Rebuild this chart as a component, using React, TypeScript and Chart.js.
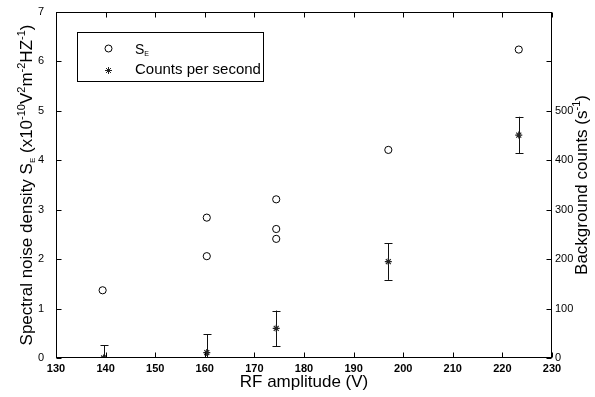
import React, { useEffect, useRef } from "react";
import { Chart, registerables } from "chart.js";

Chart.register(...registerables);

// ---- data ----
const seAmplitude = [139.4, 160.4, 160.4, 174.4, 174.4, 174.4, 197.0, 223.3];
const seDensity = [1.37, 2.06, 2.84, 2.41, 2.61, 3.21, 4.21, 6.24];
const countsAmplitude = [139.6, 160.4, 174.4, 197.0, 223.3];
const countsPerSecond = [0, 11, 60, 195, 451];
const countsError = [26, 37, 36, 37, 37];
const xTicks = [130, 140, 150, 160, 170, 180, 190, 200, 210, 220, 230];
const leftTicks = [0, 1, 2, 3, 4, 5, 6, 7];
const rightTicks = [0, 100, 200, 300, 400, 500, 600, 700];
const rightTickLabels = ["0", "100", "200", "300", "400", "500", "", ""];

const FONT = "'Liberation Sans', Arial, Helvetica, sans-serif";

type Seg = { t: string; size: number; dy: number };

function drawRich(ctx: CanvasRenderingContext2D, segs: Seg[], x: number, y: number, rot: number, align: "center" | "left") {
  ctx.save();
  ctx.translate(x, y);
  ctx.rotate(rot);
  let total = 0;
  const widths = segs.map((s) => {
    ctx.font = `${s.size}px ${FONT}`;
    const w = ctx.measureText(s.t).width;
    total += w;
    return w;
  });
  let cx = align === "center" ? -total / 2 : 0;
  ctx.textBaseline = "alphabetic";
  ctx.textAlign = "left";
  ctx.fillStyle = "#000";
  segs.forEach((s, i) => {
    ctx.font = `${s.size}px ${FONT}`;
    ctx.fillText(s.t, cx, s.dy);
    cx += widths[i];
  });
  ctx.restore();
}

const decorPlugin = {
  id: "decor",
  beforeDatasetsDraw(chart: any) {
    const ctx: CanvasRenderingContext2D = chart.ctx;
    const xs = chart.scales.x;
    const y2 = chart.scales.y2;
    const area = chart.chartArea;
    ctx.save();
    ctx.beginPath();
    ctx.rect(area.left, area.top, area.right - area.left, area.bottom - area.top);
    ctx.clip();
    ctx.strokeStyle = "#111";
    ctx.lineWidth = 1;
    countsAmplitude.forEach((a, i) => {
      const px = Math.round(xs.getPixelForValue(a)) + 0.5;
      const top = y2.getPixelForValue(countsPerSecond[i] + countsError[i]);
      const bot = y2.getPixelForValue(countsPerSecond[i] - countsError[i]);
      ctx.beginPath();
      ctx.moveTo(px, top);
      ctx.lineTo(px, bot);
      ctx.moveTo(px - 4, Math.round(top) + 0.5);
      ctx.lineTo(px + 4, Math.round(top) + 0.5);
      ctx.moveTo(px - 4, Math.round(bot) + 0.5);
      ctx.lineTo(px + 4, Math.round(bot) + 0.5);
      ctx.stroke();
    });
    ctx.restore();
  },
  afterDraw(chart: any) {
    const ctx: CanvasRenderingContext2D = chart.ctx;
    const { left, right, top, bottom } = chart.chartArea;
    const xs = chart.scales.x;
    const ys = chart.scales.y;
    const y2 = chart.scales.y2;
    ctx.save();
    ctx.strokeStyle = "#000";
    ctx.lineWidth = 1;
    const L = Math.round(left) + 0.5;
    const R = Math.round(right) - 0.5;
    const T = Math.round(top) + 0.5;
    const B = Math.round(bottom) - 0.5;
    ctx.strokeRect(L, T, R - L, B - T);
    const tl = 5;
    ctx.beginPath();
    xTicks.forEach((v) => {
      const px = Math.round(xs.getPixelForValue(v)) + 0.5;
      ctx.moveTo(px, B);
      ctx.lineTo(px, B - tl);
      ctx.moveTo(px, T);
      ctx.lineTo(px, T + tl);
    });
    leftTicks.forEach((v) => {
      const py = Math.round(ys.getPixelForValue(v)) + 0.5;
      ctx.moveTo(L, py);
      ctx.lineTo(L + tl, py);
    });
    rightTicks.forEach((v) => {
      const py = Math.round(y2.getPixelForValue(v)) + 0.5;
      ctx.moveTo(R, py);
      ctx.lineTo(R - tl, py);
    });
    ctx.stroke();

    // axis titles with sub/superscripts
    const cy = (top + bottom) / 2;
    drawRich(
      ctx,
      [
        { t: "Spectral noise density S", size: 17, dy: 0 },
        { t: "E", size: 8, dy: 3 },
        { t: " (x10", size: 17, dy: 0 },
        { t: "-10", size: 11, dy: -7 },
        { t: "V", size: 17, dy: 0 },
        { t: "2", size: 11, dy: -7 },
        { t: "m", size: 17, dy: 0 },
        { t: "-2", size: 11, dy: -7 },
        { t: "HZ", size: 17, dy: 0 },
        { t: "-1", size: 11, dy: -7 },
        { t: ")", size: 17, dy: 0 },
      ],
      32,
      cy,
      -Math.PI / 2,
      "center"
    );
    drawRich(
      ctx,
      [
        { t: "Background counts (s", size: 17, dy: 0 },
        { t: "-1", size: 11, dy: -7 },
        { t: ")", size: 17, dy: 0 },
      ],
      587,
      cy,
      -Math.PI / 2,
      "center"
    );

    // legend
    const lx = 77.5, ly = 32.5, lw = 186, lh = 49;
    ctx.fillStyle = "#fff";
    ctx.fillRect(lx, ly, lw, lh);
    ctx.strokeStyle = "#000";
    ctx.lineWidth = 1;
    ctx.strokeRect(lx, ly, lw, lh);
    ctx.beginPath();
    ctx.arc(108.5, 48.5, 3.5, 0, Math.PI * 2);
    ctx.stroke();
    // star marker
    ctx.strokeStyle = "#222";
    ctx.beginPath();
    const sx = 108.5, sy = 70.5, r = 3.5;
    for (let k = 0; k < 4; k++) {
      const a = (k * Math.PI) / 4;
      ctx.moveTo(sx + Math.cos(a) * r, sy + Math.sin(a) * r);
      ctx.lineTo(sx - Math.cos(a) * r, sy - Math.sin(a) * r);
    }
    ctx.stroke();
    drawRich(ctx, [{ t: "S", size: 14, dy: 0 }, { t: "E", size: 7, dy: 2 }], 135, 54, 0, "left");
    drawRich(ctx, [{ t: "Counts per second", size: 15, dy: 0 }], 135, 74, 0, "left");
    ctx.restore();
  },
};

export default function App() {
  const ref = useRef<HTMLCanvasElement | null>(null);
  useEffect(() => {
    document.body.style.margin = "0";
    document.body.style.overflow = "hidden";
    const canvas = ref.current!;
    const chart = new Chart(canvas, {
      type: "scatter",
      data: {
        datasets: [
          {
            label: "S_E",
            data: seAmplitude.map((x, i) => ({ x, y: seDensity[i] })),
            yAxisID: "y",
            pointStyle: "circle",
            pointRadius: 3.6,
            borderColor: "#000",
            backgroundColor: "rgba(255,255,255,0)",
            borderWidth: 1,
            showLine: false,
          },
          {
            label: "Counts per second",
            data: countsAmplitude.map((x, i) => ({ x, y: countsPerSecond[i] })),
            yAxisID: "y2",
            pointStyle: "star",
            pointRadius: 3.5,
            borderColor: "#222",
            backgroundColor: "#222",
            borderWidth: 1.2,
            showLine: false,
          },
        ],
      },
      options: {
        responsive: false,
        animation: false,
        events: [],
        layout: { padding: { top: 12, left: 0, right: 0, bottom: 0 } },
        plugins: { legend: { display: false }, tooltip: { enabled: false } },
        scales: {
          x: {
            type: "linear",
            position: "bottom",
            min: 130,
            max: 230,
            afterBuildTicks: (s: any) => {
              s.ticks = xTicks.map((v) => ({ value: v }));
            },
            afterFit: (s: any) => {
              s.height = 39;
            },
            grid: { display: false, drawTicks: true, tickLength: 4 },
            border: { display: false },
            ticks: {
              padding: 0,
              maxRotation: 0,
              autoSkip: false,
              color: "#000",
              font: { family: FONT, size: 11, weight: "bold" },
            },
            title: {
              display: true,
              text: "RF amplitude (V)",
              color: "#000",
              padding: { top: 0, bottom: 4 },
              font: { family: FONT, size: 17 },
            },
          },
          y: {
            type: "linear",
            position: "left",
            min: 0,
            max: 7,
            afterBuildTicks: (s: any) => {
              s.ticks = leftTicks.map((v) => ({ value: v }));
            },
            afterFit: (s: any) => {
              s.width = 56;
            },
            grid: { display: false, drawTicks: true, tickLength: 12 },
            border: { display: false },
            ticks: {
              padding: 0,
              autoSkip: false,
              color: "#000",
              font: { family: FONT, size: 11 },
            },
          },
          y2: {
            type: "linear",
            position: "right",
            min: 0,
            max: 700,
            afterBuildTicks: (s: any) => {
              s.ticks = rightTicks.map((v) => ({ value: v }));
            },
            afterFit: (s: any) => {
              s.width = 43;
            },
            grid: { display: false, drawTicks: true, tickLength: 3 },
            border: { display: false },
            ticks: {
              padding: 0,
              autoSkip: false,
              color: "#000",
              font: { family: FONT, size: 11 },
              callback: (_v: any, i: number) => rightTickLabels[i],
            },
          },
        },
      },
      plugins: [decorPlugin],
    });
    return () => chart.destroy();
  }, []);
  return <canvas ref={ref} width={595} height={397} style={{ display: "block" }} />;
}
